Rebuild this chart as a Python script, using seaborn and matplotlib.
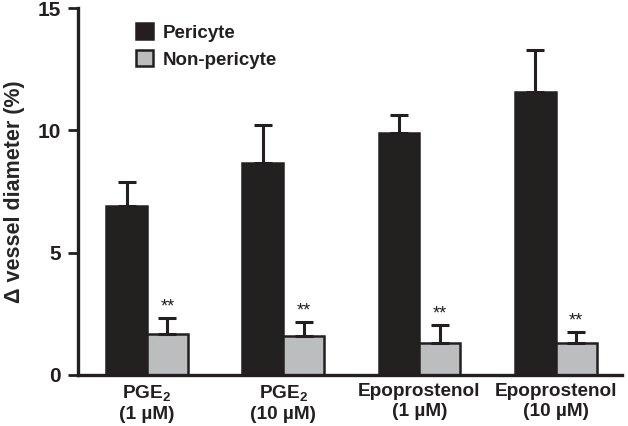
import matplotlib
matplotlib.use('Agg')
import matplotlib.pyplot as plt
import numpy as np
import pandas as pd
import seaborn as sns
from matplotlib.patches import Patch

# values
treatments = ['PGE$_2$\n(1 µM)', 'PGE$_2$\n(10 µM)', 'Epoprostenol\n(1 µM)', 'Epoprostenol\n(10 µM)']
cell_types = ['Pericyte', 'Non-pericyte']
pericyte = [6.9, 8.65, 9.88, 11.55]
pericyte_err = [0.98, 1.55, 0.75, 1.72]
non_pericyte = [1.67, 1.6, 1.3, 1.3]
non_pericyte_err = [0.66, 0.56, 0.74, 0.46]
stars = ['**', '**', '**', '**']

colors = {'Pericyte': '#231f20', 'Non-pericyte': '#bcbdbf'}

df = pd.DataFrame({
    'treatment': treatments * 2,
    'cell': ['Pericyte'] * 4 + ['Non-pericyte'] * 4,
    'value': pericyte + non_pericyte,
})

sns.set_style('ticks')
plt.rcParams['font.family'] = ['Liberation Sans', 'DejaVu Sans']
plt.rcParams['font.weight'] = 'bold'
plt.rcParams['mathtext.fontset'] = 'custom'
plt.rcParams['mathtext.rm'] = 'Liberation Sans:bold'
plt.rcParams['mathtext.default'] = 'rm'

fig = plt.figure(figsize=(6.28, 4.26), dpi=100)
ax = fig.add_axes([0.124, 0.12, 0.866, 0.861])

sns.barplot(data=df, x='treatment', y='value', hue='cell', order=treatments,
            hue_order=cell_types, palette=colors, width=0.6, errorbar=None,
            edgecolor='#231f20', linewidth=1.8, legend=False, ax=ax)

errs = {'Pericyte': pericyte_err, 'Non-pericyte': non_pericyte_err}
vals = {'Pericyte': pericyte, 'Non-pericyte': non_pericyte}
bars = ax.patches
for k, cell in enumerate(cell_types):
    group = bars[k * 4:(k + 1) * 4]
    xs = [b.get_x() + b.get_width() / 2 for b in group]
    ax.errorbar(xs, vals[cell], yerr=[np.zeros(4), errs[cell]], fmt='none',
                ecolor='#231f20', elinewidth=2.2, capsize=6.8, capthick=2.2, zorder=1)
    if cell == 'Non-pericyte':
        for x, v, e, s in zip(xs, vals[cell], errs[cell], stars):
            ax.annotate(s, (x, v + e), xytext=(0, 2), textcoords='offset points',
                        ha='center', va='bottom', fontsize=13, fontweight='normal',
                        color='#231f20')

ax.set_ylim(0, 15)
ax.set_xlim(-0.507, 3.485)
ax.set_yticks([0, 5, 10, 15])
ax.set_xlabel('')
ax.set_ylabel('Δ vessel diameter (%)', fontsize=15.5, fontweight='bold', labelpad=9)
ax.tick_params(axis='y', labelsize=15, width=2, length=7, color='#231f20', pad=5)
ax.tick_params(axis='x', labelsize=13.7, length=0, pad=6)
for lab in ax.get_xticklabels() + ax.get_yticklabels():
    lab.set_fontweight('bold')
    lab.set_color('#231f20')
sns.despine(ax=ax)
for sp in ['left', 'bottom']:
    ax.spines[sp].set_linewidth(2.4)
    ax.spines[sp].set_color('#231f20')

handles = [Patch(facecolor=colors[c], edgecolor='#231f20', linewidth=1.8, label=c)
           for c in cell_types]
leg = ax.legend(handles=handles, loc='upper left', bbox_to_anchor=(0.075, 1.005),
                frameon=False, handlelength=0.95, handleheight=0.95,
                handletextpad=0.5, labelspacing=0.45, fontsize=13.5)
for t in leg.get_texts():
    t.set_fontweight('bold')
    t.set_color('#231f20')

fig.savefig('out.png', dpi=100)
